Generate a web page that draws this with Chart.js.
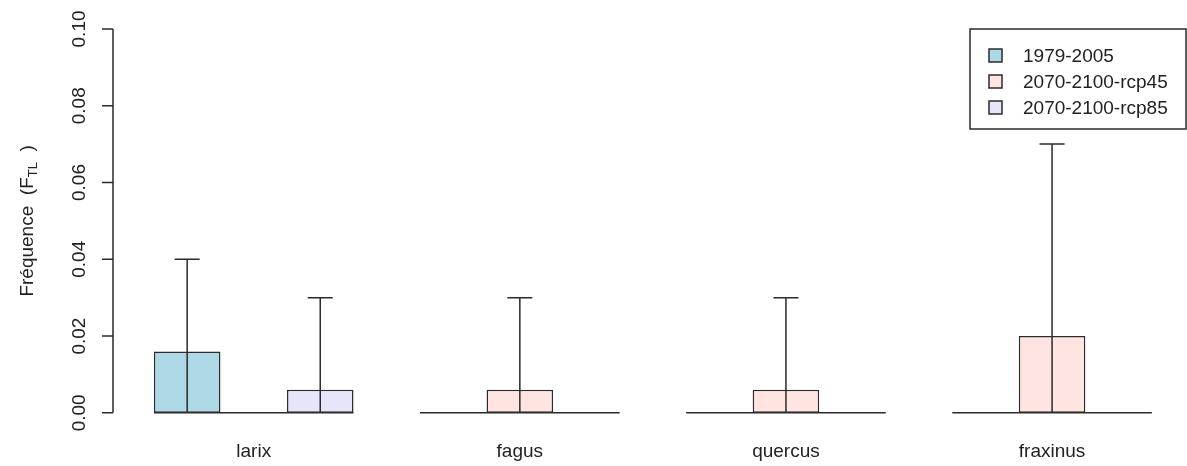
<!DOCTYPE html>
<html>
<head>
<meta charset="utf-8">
<script src="https://cdn.jsdelivr.net/npm/chart.js@4/dist/chart.umd.min.js"></script>
<style>
  body { margin: 0; background: #fff; }
  #wrap { width: 1187px; height: 466px; position: relative; }
</style>
</head>
<body>
<div id="wrap"><canvas id="myChart"></canvas></div>
<script>
const categories = ['larix', 'fagus', 'quercus', 'fraxinus'];
const seriesLabels = ['1979-2005', '2070-2100-rcp45', '2070-2100-rcp85'];
const seriesColors = ['#ADD8E6', '#FFE4E1', '#E6E6FA'];

const values1979 = [0.016, 0, 0, 0];
const valuesRcp45 = [0, 0.006, 0.006, 0.02];
const valuesRcp85 = [0.006, 0, 0, 0];

// upper end of the error bars (null = none)
const upper1979 = [0.04, null, null, null];
const upperRcp45 = [null, 0.03, 0.03, 0.07];
const upperRcp85 = [0.03, null, null, null];

const yTicks = [0, 0.02, 0.04, 0.06, 0.08, 0.10];

const FONT = "'Liberation Sans', Arial, sans-serif";
const INK = '#2b2b2b';
const LW = 1.5;

const toPoints = (vals) => vals.map((v, i) => ({ x: i + 1, y: v }));

// baseline under each group + error bars
const barExtras = {
    id: 'barExtras',
    afterDatasetsDraw(chart) {
        const ctx = chart.ctx;
        const y = chart.scales.y;
        const y0 = y.getPixelForValue(0);
        const first = chart.getDatasetMeta(0).data;
        const last = chart.getDatasetMeta(chart.data.datasets.length - 1).data;

        ctx.save();
        ctx.strokeStyle = INK;
        ctx.lineWidth = LW;

        categories.forEach((c, i) => {
            const a = first[i], b = last[i];
            ctx.beginPath();
            ctx.moveTo(a.x - a.width / 2, y0);
            ctx.lineTo(b.x + b.width / 2, y0);
            ctx.stroke();
        });

        chart.data.datasets.forEach((ds, d) => {
            const meta = chart.getDatasetMeta(d);
            meta.data.forEach((bar, i) => {
                const up = ds.upper[i];
                if (up == null) return;
                const yt = y.getPixelForValue(up);
                ctx.beginPath();
                ctx.moveTo(bar.x, y0);
                ctx.lineTo(bar.x, yt);
                ctx.moveTo(bar.x - 12.5, yt);
                ctx.lineTo(bar.x + 12.5, yt);
                ctx.stroke();
            });
        });
        ctx.restore();
    }
};

// R style y axis, title and legend box
const rDecor = {
    id: 'rDecor',
    afterDraw(chart) {
        const ctx = chart.ctx;
        const y = chart.scales.y;
        const area = chart.chartArea;
        const xAxis = area.left - 1;

        ctx.save();
        ctx.strokeStyle = INK;
        ctx.fillStyle = '#222';
        ctx.lineWidth = LW;

        // axis line + ticks
        ctx.beginPath();
        ctx.moveTo(xAxis, y.getPixelForValue(yTicks[0]));
        ctx.lineTo(xAxis, y.getPixelForValue(yTicks[yTicks.length - 1]));
        yTicks.forEach(t => {
            const py = y.getPixelForValue(t);
            ctx.moveTo(xAxis, py);
            ctx.lineTo(xAxis - 11, py);
        });
        ctx.stroke();

        // tick labels, rotated
        ctx.font = '19px ' + FONT;
        ctx.textAlign = 'center';
        ctx.textBaseline = 'alphabetic';
        yTicks.forEach(t => {
            const py = y.getPixelForValue(t);
            ctx.save();
            ctx.translate(85, py);
            ctx.rotate(-Math.PI / 2);
            ctx.fillText(t.toFixed(2), 0, 0);
            ctx.restore();
        });

        // y title with subscript
        const mainTxt = 'Fréquence  (F';
        const subTxt = 'TL';
        const endTxt = '  )';
        ctx.font = '19px ' + FONT;
        const wMain = ctx.measureText(mainTxt).width;
        const wEnd = ctx.measureText(endTxt).width;
        ctx.font = '13px ' + FONT;
        const wSub = ctx.measureText(subTxt).width;
        const total = wMain + wSub + wEnd;
        const cy = (y.getPixelForValue(yTicks[0]) + y.getPixelForValue(yTicks[yTicks.length - 1])) / 2;

        ctx.save();
        ctx.translate(33, cy);
        ctx.rotate(-Math.PI / 2);
        ctx.textAlign = 'left';
        let px = -total / 2;
        ctx.font = '19px ' + FONT;
        ctx.fillText(mainTxt, px, 0);
        px += wMain;
        ctx.font = '13px ' + FONT;
        ctx.fillText(subTxt, px, 4);
        px += wSub;
        ctx.font = '19px ' + FONT;
        ctx.fillText(endTxt, px, 0);
        ctx.restore();

        // legend
        const boxL = 970, boxT = 29, boxR = area.right - 1, boxB = 129;
        ctx.strokeRect(boxL, boxT, boxR - boxL, boxB - boxT);
        ctx.font = '19px ' + FONT;
        ctx.textAlign = 'left';
        ctx.textBaseline = 'middle';
        seriesLabels.forEach((lab, i) => {
            const cyRow = 55.5 + i * 26;
            ctx.fillStyle = seriesColors[i];
            ctx.fillRect(989, cyRow - 6.5, 13, 13);
            ctx.strokeRect(989, cyRow - 6.5, 13, 13);
            ctx.fillStyle = '#222';
            ctx.fillText(lab, 1023, cyRow + 1);
        });
        ctx.restore();
    }
};

const ctx = document.getElementById('myChart');

new Chart(ctx, {
    type: 'bar',
    data: {
        datasets: [
            { label: seriesLabels[0], data: toPoints(values1979), upper: upper1979, backgroundColor: seriesColors[0] },
            { label: seriesLabels[1], data: toPoints(valuesRcp45), upper: upperRcp45, backgroundColor: seriesColors[1] },
            { label: seriesLabels[2], data: toPoints(valuesRcp85), upper: upperRcp85, backgroundColor: seriesColors[2] }
        ]
    },
    options: {
        responsive: true,
        maintainAspectRatio: false,
        animation: false,
        layout: { padding: { left: 114, top: 13.6, right: 0, bottom: 2.8 } },
        datasets: {
            bar: {
                borderColor: INK,
                borderWidth: LW,
                borderSkipped: false,
                categoryPercentage: 0.75,
                barPercentage: 1
            }
        },
        plugins: {
            legend: { display: false },
            tooltip: { enabled: false }
        },
        scales: {
            x: {
                type: 'linear',
                offset: false,
                min: 0.475,
                max: 4.507,
                grid: { display: false, drawTicks: false, offset: false },
                border: { display: false },
                afterBuildTicks: (scale) => {
                    scale.ticks = categories.map((c, i) => ({ value: i + 1 }));
                },
                afterFit: (scale) => {
                    scale.height = 35;
                },
                ticks: {
                    padding: 12,
                    color: '#222',
                    font: { family: FONT, size: 19 },
                    callback: (v) => categories[v - 1]
                }
            },
            y: {
                display: false,
                min: -0.004,
                max: 0.104
            }
        }
    },
    plugins: [barExtras, rDecor]
});
</script>
</body>
</html>
